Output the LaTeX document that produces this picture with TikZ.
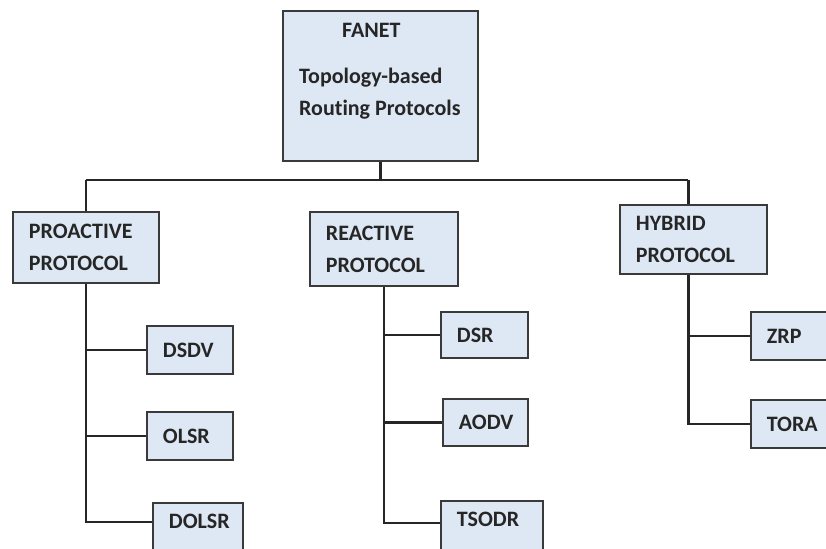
\documentclass[tikz,border=0pt]{standalone}
\usepackage{fontspec}
\setmainfont{Carlito}[Ligatures=NoCommon]
\usepackage{xcolor}
\usetikzlibrary{positioning, calc}

\definecolor{boxfill}{HTML}{DEE8F4}
\definecolor{boxline}{HTML}{3A3A3A}

\begin{document}
\begin{tikzpicture}[
  x=1pt, y=-1pt,
  font=\fontsize{22}{32}\selectfont\bfseries,
  box/.style={draw=boxline, line width=1.8pt, fill=boxfill, anchor=north west,
              align=left, inner xsep=16pt, text=black!85},
  grp/.style={box, minimum height=71pt},
  leaf/.style={box, minimum height=48pt},
  cut/.style={box, inner ysep=12pt, text height=14pt, text depth=30pt},
  ln/.style={line width=2.6pt, black!85}
]
\useasboundingbox (0,0) rectangle (826,548);
\clip (0,0) rectangle (826,548);

% root
\node[box, minimum width=195pt, minimum height=150pt] (fanet) at (282,10) {};
\node[align=left, inner sep=0pt, anchor=north west, text=black!85] (fanettxt)
     at (299,23) {\hspace*{43pt}FANET\\[14pt]Topology-based\\Routing Protocols};

% protocol classes
\node[grp, text width=114pt] (pro) at (12,211) {PROACTIVE\\PROTOCOL};
\node[grp, text width=116pt, minimum height=74pt] (rea) at (309,211) {REACTIVE\\PROTOCOL};
\node[grp, text width=115pt, minimum height=69pt] (hyb) at (619,204) {HYBRID\\PROTOCOL};

% proactive
\node[leaf, text width=54pt] (dsdv) at (146,325) {DSDV};
\node[leaf, text width=54pt] (olsr) at (146,411) {OLSR};
\node[cut, text width=58pt] (dolsr) at (152,502) {DOLSR};

% reactive
\node[leaf, text width=55pt, minimum height=46pt] (dsr) at (440,311) {DSR};
\node[leaf, text width=53pt, minimum height=47pt] (aodv) at (442,398) {AODV};
\node[cut, text width=70pt] (tsodr) at (440,500) {TSODR};

% hybrid
\node[leaf, text width=68pt] (zrp) at (750,311) {ZRP};
\node[leaf, text width=68pt] (tora) at (750,399) {TORA};

% bus and joints
\coordinate (busL) at (pro.south |- 0,180);
\coordinate (busR) at ([xshift=-5pt]hyb.south |- 0,180);
\coordinate (hybtrunk) at ([xshift=-5pt]hyb.south);
\coordinate (dolsrjoin) at (dolsr.west |- 0,522);
\coordinate (tsodrjoin) at (tsodr.west |- 0,523);
\draw[ln] (fanet.south) -- (fanet.south |- busL);
\draw[ln] (busL) -- (busR);
\draw[ln] (busL) -- (pro.north);
\draw[ln] (busR) -- (busR |- hyb.north);

% trunks
\draw[ln] (pro.south) |- (dolsrjoin);
\draw[ln] (pro.south |- dsdv.west) -- (dsdv.west);
\draw[ln] (pro.south |- olsr.west) -- (olsr.west);
\draw[ln] (rea.south) |- (tsodrjoin);
\draw[ln] (rea.south |- dsr.west) -- (dsr.west);
\draw[ln] (rea.south |- aodv.west) -- (aodv.west);
\draw[ln] (hybtrunk) |- (tora.west);
\draw[ln] (hybtrunk |- zrp.west) -- (zrp.west);
\end{tikzpicture}
\end{document}
